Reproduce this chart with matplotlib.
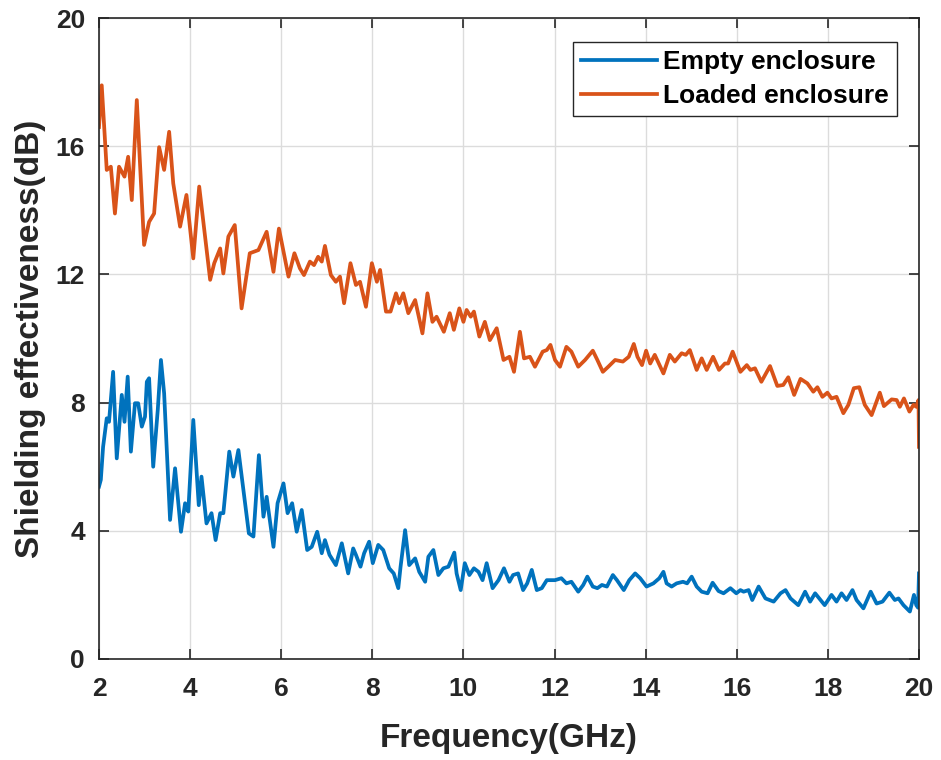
import matplotlib
matplotlib.use("Agg")
import matplotlib.pyplot as plt

plt.rcParams["font.family"] = ["Liberation Sans", "DejaVu Sans"]
plt.rcParams["font.weight"] = "bold"

# Empty enclosure (GHz, dB)
empty_freq = [
    2.00, 2.04, 2.09, 2.17, 2.22, 2.31, 2.39, 2.50, 2.56, 2.63, 2.70, 2.79, 2.86, 2.94,
    3.01, 3.05, 3.10, 3.19, 3.29, 3.36, 3.43, 3.56, 3.67, 3.80, 3.89, 3.96, 4.07, 4.19,
    4.25, 4.36, 4.47, 4.56, 4.66, 4.73, 4.86, 4.95, 5.06, 5.17, 5.29, 5.39, 5.51, 5.61,
    5.68, 5.83, 5.92, 6.05, 6.14, 6.24, 6.34, 6.45, 6.57, 6.67, 6.79, 6.89, 6.96, 7.06,
    7.20, 7.33, 7.47, 7.58, 7.64, 7.74, 7.82, 7.93, 8.01, 8.13, 8.24, 8.37, 8.47, 8.57,
    8.62, 8.72, 8.81, 8.94, 9.03, 9.16, 9.23, 9.34, 9.45, 9.56, 9.67, 9.80, 9.85, 9.94,
    10.03, 10.13, 10.23, 10.33, 10.42, 10.51, 10.64, 10.77, 10.89, 11.01, 11.09, 11.20,
    11.31, 11.40, 11.50, 11.61, 11.72, 11.83, 12.01, 12.15, 12.26, 12.37, 12.52, 12.63,
    12.72, 12.84, 12.94, 13.04, 13.15, 13.28, 13.37, 13.52, 13.64, 13.77, 13.88, 14.02,
    14.17, 14.30, 14.39, 14.46, 14.57, 14.68, 14.82, 14.91, 15.01, 15.12, 15.23, 15.36,
    15.47, 15.60, 15.71, 15.86, 15.99, 16.08, 16.15, 16.26, 16.34, 16.48, 16.63, 16.81,
    16.96, 17.07, 17.18, 17.35, 17.50, 17.61, 17.72, 17.84, 17.93, 18.08, 18.19, 18.30,
    18.41, 18.54, 18.63, 18.78, 18.94, 19.07, 19.20, 19.35, 19.47, 19.55, 19.66, 19.80,
    19.89, 19.94, 19.98, 20.00,
]
empty_se = [
    5.38, 5.59, 6.62, 7.51, 7.40, 8.96, 6.26, 8.24, 7.40, 8.81, 6.47, 7.98, 7.98, 7.25,
    7.56, 8.65, 8.76, 6.00, 7.77, 9.33, 8.29, 4.34, 5.95, 3.97, 4.86, 4.60, 7.46, 4.80,
    5.69, 4.23, 4.55, 3.71, 4.55, 4.55, 6.47, 5.69, 6.52, 5.27, 3.92, 3.82, 6.36, 4.44,
    5.06, 3.50, 4.86, 5.48, 4.55, 4.86, 3.97, 4.65, 3.40, 3.50, 3.97, 3.30, 3.71, 3.25,
    2.93, 3.61, 2.67, 3.45, 3.25, 2.88, 3.30, 3.66, 2.99, 3.56, 3.40, 2.83, 2.67, 2.21,
    2.88, 4.02, 2.93, 3.14, 2.72, 2.41, 3.19, 3.40, 2.62, 2.83, 2.88, 3.32, 2.67, 2.15,
    2.99, 2.62, 2.83, 2.72, 2.46, 2.99, 2.21, 2.46, 2.83, 2.41, 2.62, 2.67,
    2.15, 2.36, 2.78, 2.15, 2.21, 2.46, 2.46, 2.52, 2.36, 2.41, 2.10, 2.31,
    2.57, 2.26, 2.21, 2.31, 2.26, 2.62, 2.46, 2.15, 2.46, 2.67, 2.52, 2.26,
    2.36, 2.52, 2.72, 2.36, 2.26, 2.36, 2.41, 2.36, 2.57, 2.26, 2.10, 2.05,
    2.38, 2.12, 2.05, 2.21, 2.05, 2.15, 2.10, 2.15, 1.84, 2.26, 1.89, 1.79,
    2.05, 2.15, 1.89, 1.68, 2.10, 1.79, 2.05, 1.84, 1.68, 2.00, 1.79, 2.05,
    1.84, 2.15, 1.84, 1.58, 2.10, 1.73, 1.79, 2.07, 1.84, 1.89, 1.68, 1.48,
    2.00, 1.68, 1.60, 2.67,
]

# Loaded enclosure (GHz, dB)
loaded_freq = [
    2.00, 2.06, 2.17, 2.26, 2.35, 2.44, 2.56, 2.64, 2.72, 2.83, 2.99, 3.10, 3.21, 3.32,
    3.43, 3.54, 3.63, 3.78, 3.92, 4.07, 4.20, 4.44, 4.53, 4.66, 4.73, 4.84, 4.98, 5.13,
    5.31, 5.50, 5.68, 5.83, 5.95, 6.16, 6.29, 6.41, 6.50, 6.63, 6.72, 6.81, 6.89, 6.96,
    7.09, 7.20, 7.29, 7.38, 7.52, 7.64, 7.73, 7.86, 7.99, 8.10, 8.17, 8.30, 8.40, 8.52,
    8.59, 8.68, 8.79, 8.94, 9.10, 9.21, 9.32, 9.41, 9.57, 9.70, 9.79, 9.91, 10.00, 10.07,
    10.16, 10.23, 10.35, 10.47, 10.58, 10.73, 10.88, 11.01, 11.11, 11.24, 11.33, 11.46,
    11.57, 11.74, 11.83, 11.91, 12.01, 12.12, 12.26, 12.37, 12.52, 12.67, 12.84, 12.94,
    13.06, 13.18, 13.33, 13.50, 13.63, 13.74, 13.82, 13.92, 14.01, 14.10, 14.20, 14.39,
    14.53, 14.64, 14.79, 14.88, 14.97, 15.12, 15.23, 15.34, 15.48, 15.61, 15.74, 15.81,
    15.91, 16.08, 16.22, 16.30, 16.40, 16.54, 16.73, 16.89, 17.02, 17.13, 17.26, 17.40,
    17.55, 17.68, 17.77, 17.88, 17.99, 18.08, 18.19, 18.34, 18.45, 18.57, 18.69, 18.81,
    18.96, 19.14, 19.23, 19.40, 19.51, 19.58, 19.67, 19.79, 19.88, 19.94, 19.99, 20.00,
]
loaded_se = [
    16.60, 17.90, 15.26, 15.36, 13.90, 15.36, 15.05, 15.67, 14.32, 17.44, 12.92, 13.64,
    13.90, 15.97, 15.26, 16.45, 14.84, 13.49, 14.48, 12.50, 14.74, 11.83, 12.35, 12.81,
    12.03, 13.18, 13.54, 10.94, 12.66, 12.76, 13.33, 12.08, 13.43, 11.93, 12.66, 12.19,
    11.98, 12.40, 12.29, 12.55, 12.40, 12.89, 11.98, 11.77, 11.93, 11.10, 12.35, 11.67,
    11.77, 10.99, 12.35, 11.77, 12.14, 10.84, 10.84, 11.41, 11.10, 11.41, 10.79, 11.20,
    10.16, 11.41, 10.52, 10.68, 10.21, 10.79, 10.27, 10.94, 10.52, 10.89, 10.68, 10.84,
    10.06, 10.52, 9.95, 10.32, 9.33, 9.43, 8.96, 10.21, 9.38, 9.43, 9.12, 9.59, 9.64,
    9.80, 9.33, 9.12, 9.74, 9.59, 9.12, 9.33, 9.62, 9.33, 8.96, 9.12, 9.33, 9.28, 9.43,
    9.83, 9.43, 9.17, 9.62, 9.22, 9.49, 8.91, 9.49, 9.28, 9.54, 9.49, 9.64, 9.02, 9.38,
    9.02, 9.43, 9.02, 9.22, 9.22, 9.59, 8.96, 9.17, 9.02, 9.07, 8.65, 9.14, 8.52, 8.55,
    8.79, 8.24, 8.74, 8.60, 8.34, 8.48, 8.18, 8.31, 8.13, 8.18, 7.67, 7.93, 8.45, 8.48,
    7.93, 7.61, 8.31, 7.89, 8.10, 8.08, 7.87, 8.13, 7.72, 7.93, 7.87, 8.08, 6.62,
]

x_ticks = [2, 4, 6, 8, 10, 12, 14, 16, 18, 20]
y_ticks = [0, 4, 8, 12, 16, 20]

dark = "#262626"

fig = plt.figure(figsize=(9.41, 7.6), dpi=100)
ax = fig.add_axes([0.1052, 0.1329, 0.8714, 0.8434])

ax.plot(empty_freq, empty_se, color="#0072BD", lw=2.7, label="Empty enclosure")
ax.plot(loaded_freq, loaded_se, color="#D95319", lw=2.7, label="Loaded enclosure")

ax.set_xlim(2, 20)
ax.set_ylim(0, 20)
ax.set_xticks(x_ticks)
ax.set_yticks(y_ticks)
ax.grid(True, color="#dcdcdc", lw=1.0)
ax.set_axisbelow(True)

for s in ax.spines.values():
    s.set_color(dark)
    s.set_linewidth(1.2)
ax.tick_params(direction="in", length=7, width=1.2, colors=dark,
               top=True, right=True, labelsize=19)
ax.tick_params(axis="x", pad=13)
ax.tick_params(axis="y", pad=10)

ax.set_xlabel("Frequency(GHz)", fontsize=24, fontweight="bold", color=dark, labelpad=16)
ax.set_ylabel("Shielding effectiveness(dB)", fontsize=24, fontweight="bold",
              color=dark, labelpad=7)

leg = ax.legend(loc="upper right", bbox_to_anchor=(0.973, 0.9626), fontsize=19,
                fancybox=False, framealpha=1, edgecolor=dark, borderpad=0.3,
                labelspacing=0.4, handlelength=2.85, handletextpad=0.25,
                borderaxespad=0)
leg.get_frame().set_linewidth(1.0)
for t in leg.get_texts():
    t.set_color("black")

fig.savefig("out.png", dpi=100)
